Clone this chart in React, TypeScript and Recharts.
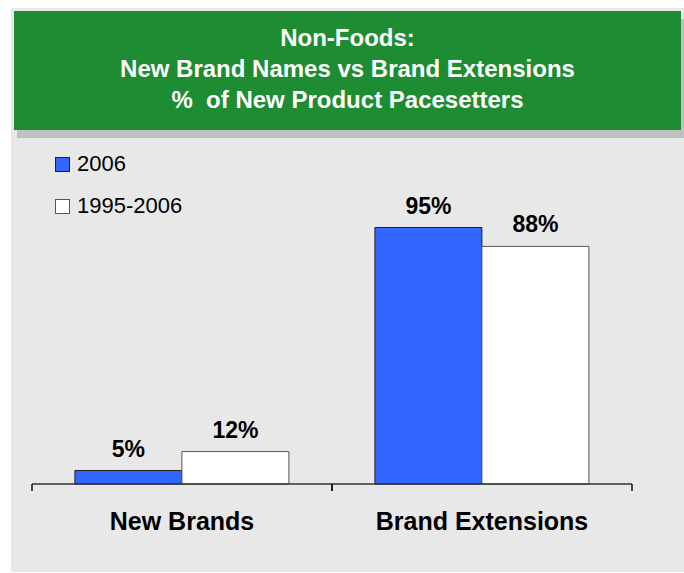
import React from "react";
import {
    BarChart,
    Bar,
    XAxis,
    YAxis,
    LabelList,
} from "recharts";

const categories = ["New Brands", "Brand Extensions"];
const share2006 = [5, 95];
const share1995to2006 = [12, 88];
const seriesNames = ["2006", "1995-2006"];
const seriesColors = ["#3366ff", "#ffffff"];
const seriesStrokes = ["#222", "#555"];
const titleLines = [
    "Non-Foods:",
    "New Brand Names vs Brand Extensions",
    "%  of New Product Pacesetters",
];

const FONT = "'Liberation Sans', Arial, Helvetica, sans-serif";

const data = categories.map((name, i) => ({
    name,
    recent: share2006[i],
    longRun: share1995to2006[i],
}));

const AXIS_GAP = 28;

function CategoryTick(props: any) {
    const { x, y, payload } = props;
    const half = payload && payload.offset ? payload.offset : 150;
    const axisY = y - AXIS_GAP;
    return (
        <g>
            <line x1={x - half} x2={x - half} y1={axisY} y2={axisY + 7} stroke="#111" strokeWidth={1.5} />
            <line x1={x + half} x2={x + half} y1={axisY} y2={axisY + 7} stroke="#111" strokeWidth={1.5} />
            <text
                x={x}
                y={y}
                dy="0.71em"
                textAnchor="middle"
                fontFamily={FONT}
                fontWeight="bold"
                fontSize={25}
                fill="#000"
            >
                {payload.value}
            </text>
        </g>
    );
}

const labelStyle = { fontFamily: FONT, fontWeight: "bold", fontSize: 23, fill: "#000" };

export default function App() {
    return (
        <div
            style={{
                position: "absolute",
                left: 0,
                top: 0,
                width: 684,
                height: 573,
                background: "#fff",
                fontFamily: FONT,
            }}
        >
            <div
                style={{
                    position: "absolute",
                    left: 11,
                    top: 8,
                    width: 673,
                    height: 564,
                    background: "#e8e8e8",
                }}
            />

            <div
                style={{
                    position: "absolute",
                    left: 14,
                    top: 11,
                    width: 667,
                    height: 119,
                    background: "#1e8c32",
                    boxShadow: "3px 8px 0 #c0c0c0",
                    color: "#fff",
                    fontWeight: "bold",
                    fontSize: 24,
                    lineHeight: "31px",
                    textAlign: "center",
                    paddingTop: 11,
                    boxSizing: "border-box",
                }}
            >
                {titleLines.map((line, i) => (
                    <div key={i} style={{ whiteSpace: "pre" }}>
                        {line}
                    </div>
                ))}
            </div>

            <div
                style={{
                    position: "absolute",
                    left: 55,
                    top: 143,
                    fontSize: 22,
                    color: "#000",
                }}
            >
                {seriesNames.map((name, i) => (
                    <div key={name} style={{ display: "flex", alignItems: "center", height: 42 }}>
                        <span
                            style={{
                                display: "inline-block",
                                width: 13,
                                height: 13,
                                background: seriesColors[i],
                                border: `1px solid ${seriesStrokes[i]}`,
                                marginRight: 7,
                            }}
                        />
                        <span>{name}</span>
                    </div>
                ))}
            </div>

            <div style={{ position: "absolute", left: 0, top: 0 }}>
                <BarChart
                    width={684}
                    height={573}
                    data={data}
                    margin={{ top: 214, right: 52, bottom: 29, left: 32 }}
                    barCategoryGap="14.3%"
                    barGap={0}
                >
                    <YAxis hide domain={[0, 100]} />
                    <XAxis
                        dataKey="name"
                        height={60}
                        tickSize={0}
                        tickMargin={AXIS_GAP}
                        axisLine={{ stroke: "#333", strokeWidth: 1.5 }}
                        tickLine={false}
                        tick={<CategoryTick />}
                        interval={0}
                    />
                    <Bar
                        dataKey="recent"
                        name={seriesNames[0]}
                        fill={seriesColors[0]}
                        stroke={seriesStrokes[0]}
                        strokeWidth={1}
                        isAnimationActive={false}
                    >
                        <LabelList
                            dataKey="recent"
                            position="top"
                            offset={14}
                            formatter={(v: any) => `${v}%`}
                            style={labelStyle}
                        />
                    </Bar>
                    <Bar
                        dataKey="longRun"
                        name={seriesNames[1]}
                        fill={seriesColors[1]}
                        stroke={seriesStrokes[1]}
                        strokeWidth={1}
                        isAnimationActive={false}
                    >
                        <LabelList
                            dataKey="longRun"
                            position="top"
                            offset={14}
                            formatter={(v: any) => `${v}%`}
                            style={labelStyle}
                        />
                    </Bar>
                </BarChart>
            </div>
        </div>
    );
}
